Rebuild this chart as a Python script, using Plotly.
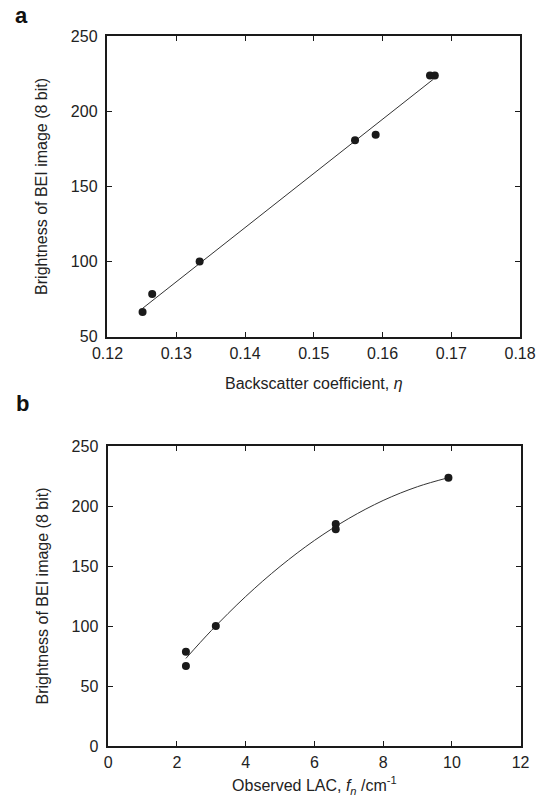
import plotly.graph_objects as go

# Panel a: brightness vs backscatter coefficient
eta = [0.1251, 0.1265, 0.1334, 0.1560, 0.1590, 0.1669, 0.1676]
bright_a = [66.5, 78.5, 100.0, 180.7, 184.4, 223.8, 223.8]
fit_a_x = [0.1251, 0.1674]
fit_a_y = [68.9, 221.3]

# Panel b: brightness vs observed LAC
lac = [2.26, 2.26, 3.13, 6.62, 6.62, 9.90]
bright_b = [78.6, 66.7, 100.0, 185.0, 180.6, 223.6]
fit_b_x = [2.26, 3.0, 4.0, 5.0, 6.0, 7.0, 8.0, 9.0, 9.9]
fit_b_y = [73.0, 96.2, 124.6, 149.6, 171.3, 189.6, 204.6, 216.1, 223.6]

ink = "#1a1a1a"
font = dict(family="Liberation Sans, Arial, sans-serif", size=16, color="#222")

fig = go.Figure()
fig.add_trace(go.Scatter(x=fit_a_x, y=fit_a_y, mode="lines",
                         line=dict(color="#333", width=1), xaxis="x", yaxis="y", showlegend=False))
fig.add_trace(go.Scatter(x=eta, y=bright_a, mode="markers",
                         marker=dict(color=ink, size=8), xaxis="x", yaxis="y", showlegend=False))
fig.add_trace(go.Scatter(x=fit_b_x, y=fit_b_y, mode="lines", line_shape="spline",
                         line=dict(color="#333", width=1), xaxis="x2", yaxis="y2", showlegend=False))
fig.add_trace(go.Scatter(x=lac, y=bright_b, mode="markers",
                         marker=dict(color=ink, size=8), xaxis="x2", yaxis="y2", showlegend=False))

axis_common = dict(showline=True, linecolor=ink, linewidth=1.5, mirror="ticks",
                   ticks="inside", ticklen=5, tickwidth=1.2, tickcolor=ink,
                   showgrid=False, zeroline=False, tickfont=font, automargin=False)

label_font = dict(family="Liberation Sans, Arial, sans-serif", size=22, color="#111")

fig.update_layout(
    width=544, height=800,
    margin=dict(l=0, r=0, t=0, b=0),
    paper_bgcolor="white", plot_bgcolor="white",
    font=font,
    xaxis=dict(domain=[0.1976, 0.956], anchor="y", range=[0.12, 0.18], dtick=0.01,
               tickformat=".2f", ticklabelstandoff=1,
               title=dict(text="Backscatter coefficient, <i>η</i>", font=font, standoff=17),
               **axis_common),
    yaxis=dict(domain=[0.579, 0.955], anchor="x", range=[50, 250], dtick=50,
               ticklabelstandoff=5,
               title=dict(text="Brightness of BEI image (8 bit)", font=font, standoff=19),
               **axis_common),
    xaxis2=dict(domain=[0.199, 0.957], anchor="y2", range=[0, 12], dtick=2,
                ticklabelstandoff=1,
                title=dict(text="Observed LAC, <i>f</i><sub><i>n</i></sub> /cm<sup>-1</sup>",
                           font=font, standoff=10),
                **axis_common),
    yaxis2=dict(domain=[0.0675, 0.4425], anchor="x2", range=[0, 250], dtick=50,
                ticklabelstandoff=5,
                title=dict(text="Brightness of BEI image (8 bit)", font=font, standoff=19),
                **axis_common),
    annotations=[
        dict(text="<b>a</b>", x=21 / 544, y=1 - 15 / 800, xref="paper", yref="paper",
             xanchor="center", yanchor="middle", showarrow=False, font=label_font),
        dict(text="<b>b</b>", x=22 / 544, y=1 - 403 / 800, xref="paper", yref="paper",
             xanchor="center", yanchor="middle", showarrow=False, font=label_font),
    ],
)

fig.write_html("out.html", config={"displayModeBar": False},
               post_script="document.body.style.margin='0';document.body.style.overflow='hidden';")
